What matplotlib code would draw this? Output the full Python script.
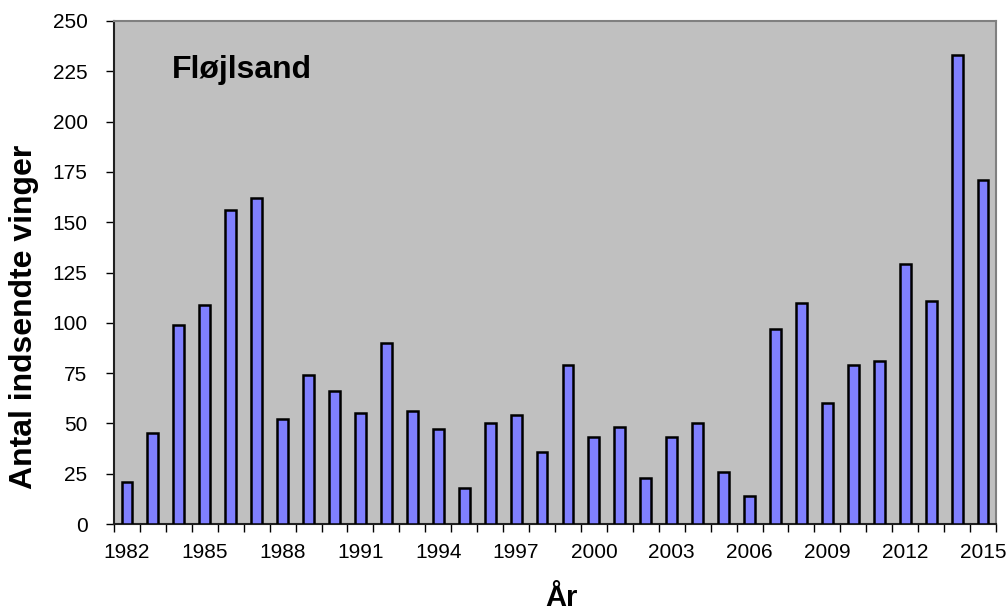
import matplotlib
matplotlib.use("Agg")
import matplotlib.pyplot as plt
import numpy as np

years = list(range(1982, 2016))
values = [21, 45, 99, 109, 156, 162, 52, 74, 66, 55, 90, 56, 47, 18, 50, 54, 36,
          79, 43, 48, 23, 43, 50, 26, 14, 97, 110, 60, 79, 81, 129, 111, 233, 171]
yticks = [0, 25, 50, 75, 100, 125, 150, 175, 200, 225, 250]
title_text = "Fløjlsand"
xlabel = "År"
ylabel = "Antal indsendte vinger"

plt.rcParams['font.family'] = ['Liberation Sans', 'DejaVu Sans']

fig = plt.figure(figsize=(10.06, 6.15), dpi=100)
ax = fig.add_axes([114/1006, 1 - 524/615, (996-114)/1006, (524-21)/615])
ax.set_facecolor('#C0C0C0')

x = np.arange(len(years))
ax.bar(x, values, width=0.42, color='#8080FF', edgecolor='black', linewidth=1.8, zorder=3)

ax.set_xlim(-0.5, len(years) - 0.5)
ax.set_ylim(0, 250)

ax.set_yticks(yticks)
ax.set_yticklabels([str(v) for v in yticks], fontsize=15)
ax.tick_params(axis='y', direction='out', length=6, width=1, pad=13, color='black')

major = x[::3]
ax.set_xticks(major)
ax.set_xticklabels([str(years[i]) for i in major], fontsize=15)
ax.set_xticks(np.arange(-0.5, len(years), 1.0), minor=True)
ax.tick_params(axis='x', which='major', length=0, pad=14)
ax.tick_params(axis='x', which='minor', direction='out', length=6, width=1, color='black')

for side in ['left', 'bottom']:
    ax.spines[side].set_color('#202020')
    ax.spines[side].set_linewidth(1.5)
for side in ['top', 'right']:
    ax.spines[side].set_color('#808080')
    ax.spines[side].set_linewidth(1.5)

fig.text(172/1006, 1 - 70/615, title_text, fontsize=23,
         fontweight='bold', ha='left', va='center')

fig.text(561/1006, 1 - 598/615, xlabel, fontsize=21, fontweight='bold', ha='center', va='center')
fig.text(24/1006, 1 - 317/615, ylabel, fontsize=23, fontweight='bold', ha='center', va='center',
         rotation=90)

fig.savefig('out.png', dpi=100, facecolor='white')
